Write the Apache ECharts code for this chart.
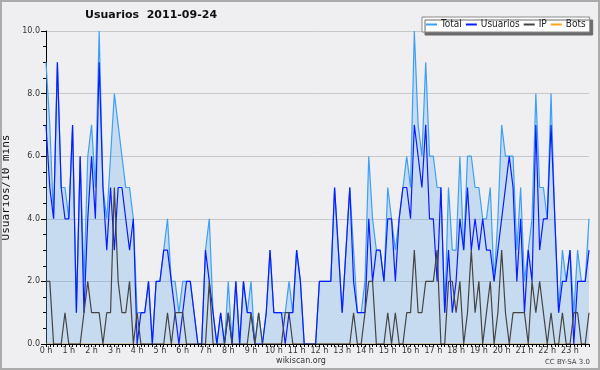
<!DOCTYPE html>
<html><head><meta charset="utf-8">
<script src="https://cdn.jsdelivr.net/npm/echarts@6/dist/echarts.min.js"></script>
<style>html,body{margin:0;padding:0;background:#efeff1}#c{width:600px;height:370px}</style>
</head><body><div id="c"></div>
<script>
const titleText = 'Usuarios  2011-09-24';
const yAxisName = 'Usuarios/10 mins';
const footerSite = 'wikiscan.org';
const footerLicense = 'CC BY-SA 3.0';
const seriesNames = ['Total', 'Usuarios', 'IP', 'Bots'];
const hourLabels = ['0 h','1 h','2 h','3 h','4 h','5 h','6 h','7 h','8 h','9 h','10 h','11 h',
  '12 h','13 h','14 h','15 h','16 h','17 h','18 h','19 h','20 h','21 h','22 h','23 h'];
const minuteSlots = ['00','10','20','30','40','50'];

// 10-minute slots, 144 per day
const totalData = [
  9,7,4,9,5,5,4,7,1,6,2,6, 7,5,10,5,4,6,8,7,6,5,5,4,
  1,1,1,2,0,2,2,3,4,2,2,1, 2,2,2,1,0,0,3,4,1,0,1,0,
  2,0,2,0,2,1,2,0,1,0,1,3, 1,1,1,1,2,1,3,2,0,0,0,0,
  2,2,2,2,5,3,1,3,5,3,1,1, 2,6,4,3,3,2,5,4,3,4,5,6,
  5,10,7,6,9,6,6,5,5,1,5,3, 3,6,3,6,6,5,5,4,4,5,2,4,
  7,6,6,6,3,5,2,3,4,8,5,5, 4,8,4,1,3,2,3,1,3,2,2,4
];
const usuariosData = [
  7,5,4,9,5,4,4,7,1,6,1,4, 6,4,9,5,3,5,3,5,5,4,3,4,
  0,1,1,2,0,2,2,3,3,2,1,0, 1,2,2,1,0,0,3,2,1,0,1,0,
  1,0,2,0,2,1,1,0,0,0,1,3, 1,1,1,0,1,1,3,2,0,0,0,0,
  2,2,2,2,5,3,1,3,5,2,1,1, 1,4,2,3,3,2,4,4,2,4,5,5,
  4,7,6,5,7,4,4,2,5,1,3,1, 2,4,3,5,3,4,3,4,3,3,2,3,
  4,5,6,5,2,4,1,3,2,7,3,4, 4,7,4,1,2,2,3,0,2,2,2,3
];
const ipData = [
  2,2,0,0,0,1,0,0,0,0,1,2, 1,1,1,0,1,1,5,2,1,1,2,0,
  1,0,0,0,0,0,0,0,1,0,1,1, 1,0,0,0,0,0,0,2,0,0,0,0,
  1,0,0,0,0,0,1,0,1,0,0,0, 0,0,0,1,1,0,0,0,0,0,0,0,
  0,0,0,0,0,0,0,0,0,1,0,0, 1,2,2,0,0,0,1,0,1,0,0,1,
  1,3,1,1,2,2,2,3,0,0,2,2, 1,2,0,1,3,1,2,0,1,2,0,1,
  3,1,0,1,1,1,1,0,2,1,2,1, 0,1,0,0,1,0,0,1,1,0,0,1
];
const botsData = [
  0,0,0,0,0,0,0,0,0,0,0,0, 0,0,0,0,0,0,0,0,0,0,0,0,
  0,0,0,0,0,0,0,0,0,0,0,0, 0,0,0,0,0,0,0,0,0,0,0,0,
  0,0,0,0,0,0,0,0,0,0,0,0, 0,0,0,0,0,0,0,0,0,0,0,0,
  0,0,0,0,0,0,0,0,0,0,0,0, 0,0,0,0,0,0,0,0,0,0,0,0,
  0,0,0,0,0,0,0,0,0,0,0,0, 0,0,0,0,0,0,0,0,0,0,0,0,
  0,0,0,0,0,0,0,0,0,0,0,0, 0,0,0,0,0,0,0,0,0,0,0,0
];

const categories = [];
hourLabels.forEach((h, hi) => minuteSlots.forEach(m => categories.push(hi + ':' + m)));

const colors = { total: '#3d9ff5', usuarios: '#0a1cff', ip: '#444444', bots: '#ffa31a' };
const sans = "'DejaVu Sans', sans-serif";

const chart = echarts.init(document.getElementById('c'), null, { renderer: 'canvas' });
chart.setOption({
  animation: false,
  backgroundColor: '#efeff1',
  title: {
    text: titleText, left: 85, top: 10, padding: 0,
    textStyle: { fontFamily: sans, fontSize: 11, fontWeight: 'bold', color: '#111' }
  },
  legend: {
    left: 422, top: 17, padding: [2, 4, 2, 4],
    itemWidth: 11, itemHeight: 2, itemGap: 4, icon: 'rect',
    backgroundColor: '#ffffff', borderColor: '#8a8a8a', borderWidth: 1,
    shadowColor: '#6a6a6a', shadowOffsetX: 3, shadowOffsetY: 3, shadowBlur: 0,
    textStyle: { fontFamily: "'DejaVu Sans Condensed', 'Liberation Sans', sans-serif", fontSize: 10, lineHeight: 11, color: '#222', padding: [0,0,0,-1] },
    data: seriesNames
  },
  grid: { left: 46, right: 11, top: 31, bottom: 26, containLabel: false, outerBoundsMode: 'none' },
  xAxis: {
    type: 'category', data: categories, boundaryGap: false, z: 10,
    axisLine: { lineStyle: { color: '#000', width: 1 } },
    axisTick: { show: true, interval: 0, length: 3, lineStyle: { color: '#000' } },
    axisLabel: {
      interval: (idx) => idx % 6 === 0,
      formatter: (v, idx) => hourLabels[Math.floor(idx / 6)],
      margin: 3, fontFamily: sans, fontSize: 8, color: '#333'
    },
    splitLine: { show: false }
  },
  yAxis: {
    type: 'value', min: 0, max: 10, interval: 2,
    name: yAxisName, nameLocation: 'middle', nameGap: 32, nameRotate: 90,
    nameTextStyle: { fontFamily: "'DejaVu Sans Mono', monospace", fontSize: 11, color: '#111' },
    axisLine: { show: true, lineStyle: { color: '#000', width: 1 } },
    axisTick: { show: true, length: 5, lineStyle: { color: '#000' } },
    minorTick: { show: true, splitNumber: 4, length: 3, lineStyle: { color: '#000' } },
    axisLabel: { formatter: v => v.toFixed(1), margin: 6, fontFamily: sans, fontSize: 8, color: '#333' },
    splitLine: { show: true, lineStyle: { color: '#c8c8c8', width: 1 } }
  },
  series: [
    { name: seriesNames[0], type: 'line', data: totalData, symbol: 'none',
      lineStyle: { color: colors.total, width: 1.2 }, itemStyle: { color: colors.total },
      areaStyle: { color: 'rgb(102,173,235)', opacity: 0.3 } },
    { name: seriesNames[1], type: 'line', data: usuariosData, symbol: 'none',
      lineStyle: { color: colors.usuarios, width: 1.2 }, itemStyle: { color: colors.usuarios } },
    { name: seriesNames[2], type: 'line', data: ipData, symbol: 'none',
      lineStyle: { color: colors.ip, width: 1.2 }, itemStyle: { color: colors.ip } },
    { name: seriesNames[3], type: 'line', data: botsData, symbol: 'none', z: 1,
      lineStyle: { color: colors.bots, width: 1.2 }, itemStyle: { color: colors.bots } }
  ],
  graphic: [
    { type: 'rect', silent: true, z: 100, shape: { x: 1, y: 1, width: 598, height: 368 },
      style: { fill: 'none', stroke: '#ababab', lineWidth: 2 } },
    { type: 'text', silent: true, x: 301, y: 361,
      style: { text: footerSite, font: "8px 'DejaVu Sans'", fill: '#333', textAlign: 'center', textVerticalAlign: 'middle' } },
    { type: 'text', silent: true, x: 590, y: 362,
      style: { text: footerLicense, font: "7px 'DejaVu Sans'", fill: '#444', textAlign: 'right', textVerticalAlign: 'middle' } }
  ]
});
</script></body></html>
